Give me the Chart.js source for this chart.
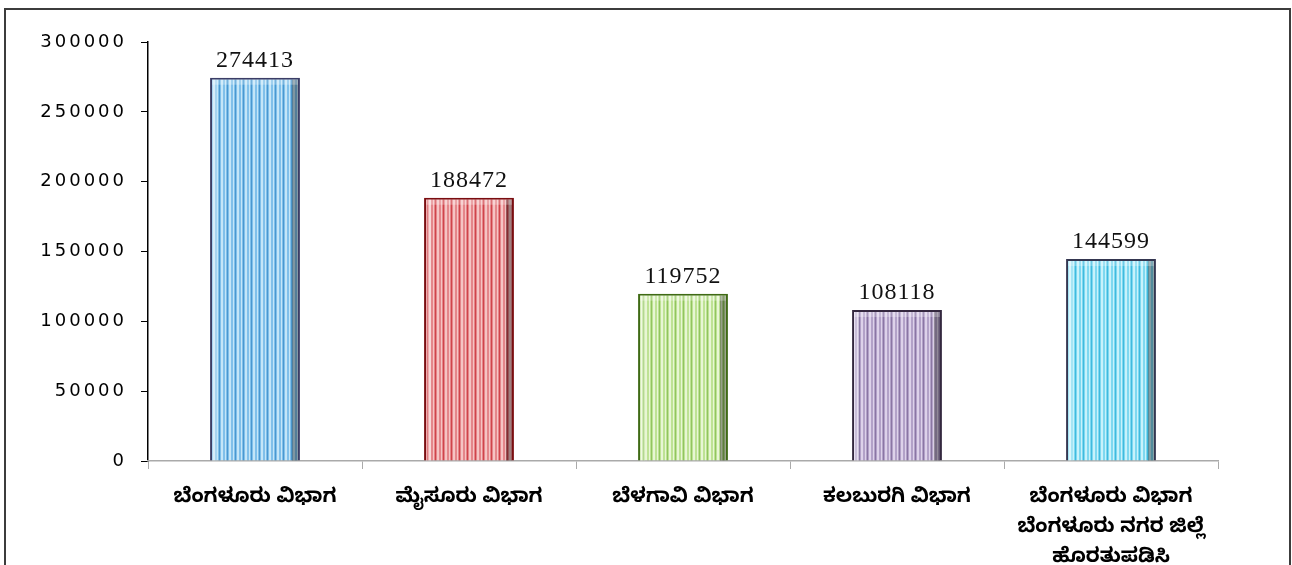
<!DOCTYPE html>
<html>
<head>
<meta charset="utf-8">
<script src="https://cdn.jsdelivr.net/npm/chart.js@4/dist/chart.umd.min.js"></script>
<style>
    html, body { margin: 0; padding: 0; background: #fff; overflow: hidden; }
    #wrap { position: relative; width: 1292px; height: 565px; }
    #frame { position: absolute; left: 4px; top: 8px; width: 1283px; height: 600px;
             border: 2px solid #3c3c3c; pointer-events: none; }
</style>
</head>
<body>
<div id="wrap">
    <canvas id="grafico" width="1292" height="565"></canvas>
    <div id="frame"></div>
</div>
<script>
const vibhagas = [
    'ಬೆಂಗಳೂರು ವಿಭಾಗ',
    'ಮೈಸೂರು ವಿಭಾಗ',
    'ಬೆಳಗಾವಿ ವಿಭಾಗ',
    'ಕಲಬುರಗಿ ವಿಭಾಗ',
    ['ಬೆಂಗಳೂರು ವಿಭಾಗ', 'ಬೆಂಗಳೂರು ನಗರ ಜಿಲ್ಲೆ', 'ಹೊರತುಪಡಿಸಿ'],
];
const valores = [274413, 188472, 119752, 108118, 144599];
const yTicks = [0, 50000, 100000, 150000, 200000, 250000, 300000];

// cores das listras: [fundo, claro, escuro, borda]
const cores = [
    ['#80c0ea', '#c4e6f8', '#4a98d0', '#3b3d66'],
    ['#e4868a', '#f6c4c4', '#d0444a', '#7a0d10'],
    ['#bee294', '#e8f6d4', '#92c460', '#3f6a14'],
    ['#b2a2c8', '#ddd2ea', '#8a76a4', '#34283f'],
    ['#7ed8f0', '#c8f2fb', '#40bade', '#343650'],
];

function listras(c) {
    const cv = document.createElement('canvas');
    cv.width = 8; cv.height = 4;
    const g = cv.getContext('2d');
    g.fillStyle = c[0]; g.fillRect(0, 0, 8, 4);
    g.fillStyle = c[1]; g.fillRect(1, 0, 1, 4); g.fillRect(5, 0, 2, 4);
    g.fillStyle = c[2]; g.fillRect(3, 0, 1, 4);
    return g.createPattern(cv, 'repeat');
}

const valorLabels = {
    id: 'valorLabels',
    afterDatasetsDraw(chart) {
        const ctx = chart.ctx;
        const meta = chart.getDatasetMeta(0);
        ctx.save();
        meta.data.forEach((bar, i) => {
            const p = bar.getProps(['x', 'y', 'base', 'width'], true);
            const l = p.x - p.width / 2, r = p.x + p.width / 2;
            // bisel
            ctx.fillStyle = 'rgba(255,255,255,0.3)';
            ctx.fillRect(l + 2, p.y + 2, 5, p.base - p.y - 2);
            ctx.fillStyle = 'rgba(0,0,0,0.35)';
            ctx.fillRect(r - 8, p.y + 2, 6, p.base - p.y - 2);
            ctx.fillStyle = 'rgba(255,255,255,0.25)';
            ctx.fillRect(l + 2, p.y + 2, p.width - 4, 5);

            ctx.fillStyle = '#111';
            ctx.font = '24px "Liberation Serif", "Times New Roman", serif';
            ctx.letterSpacing = '1px';
            ctx.textAlign = 'center';
            ctx.textBaseline = 'alphabetic';
            ctx.fillText(String(valores[i]), p.x, p.y - 11);
        });
        ctx.restore();
    }
};

const espacarY = {
    id: 'espacarY',
    afterLayout(chart) {
        const s = chart.scales.y;
        if (s._espacado) return;
        const orig = s.drawLabels.bind(s);
        s.drawLabels = function (area) {
            chart.ctx.save();
            chart.ctx.letterSpacing = '3px';
            orig(area);
            chart.ctx.restore();
        };
        s._espacado = true;
    }
};

new Chart(document.getElementById('grafico'), {
    type: 'bar',
    data: {
        labels: vibhagas,
        datasets: [{
            data: valores,
            backgroundColor: cores.map(listras),
            borderColor: cores.map(c => c[3]),
            borderWidth: 2,
            barPercentage: 0.42,
            categoryPercentage: 1,
        }]
    },
    options: {
        responsive: false,
        animation: false,
        layout: { padding: { top: 42, right: 74, left: 0, bottom: 0 } },
        plugins: { legend: { display: false }, tooltip: { enabled: false } },
        scales: {
            y: {
                min: 0,
                max: 300000,
                afterFit(s) { s.width = 148; },
                afterBuildTicks(s) { s.ticks = yTicks.map(v => ({ value: v })); },
                ticks: {
                    color: '#000',
                    padding: 14,
                    callback: v => String(v),
                    font: { family: '"DejaVu Sans", sans-serif', size: 18 },
                },
                grid: { drawOnChartArea: false, color: '#000', tickLength: 7 },
                border: { color: '#000', width: 1.5 },
            },
            x: {
                afterFit(s) { s.height = 104; },
                ticks: {
                    color: '#000',
                    padding: 16,
                    autoSkip: false,
                    maxRotation: 0,
                    font: { family: '"Noto Sans Kannada", "Noto Sans", sans-serif', size: 20, weight: 'bold', lineHeight: 1.5 },
                },
                grid: { drawOnChartArea: false, color: '#aaa', tickLength: 8 },
                border: { color: '#aaa', width: 1.5 },
            },
        },
    },
    plugins: [valorLabels, espacarY],
});
</script>
</body>
</html>
